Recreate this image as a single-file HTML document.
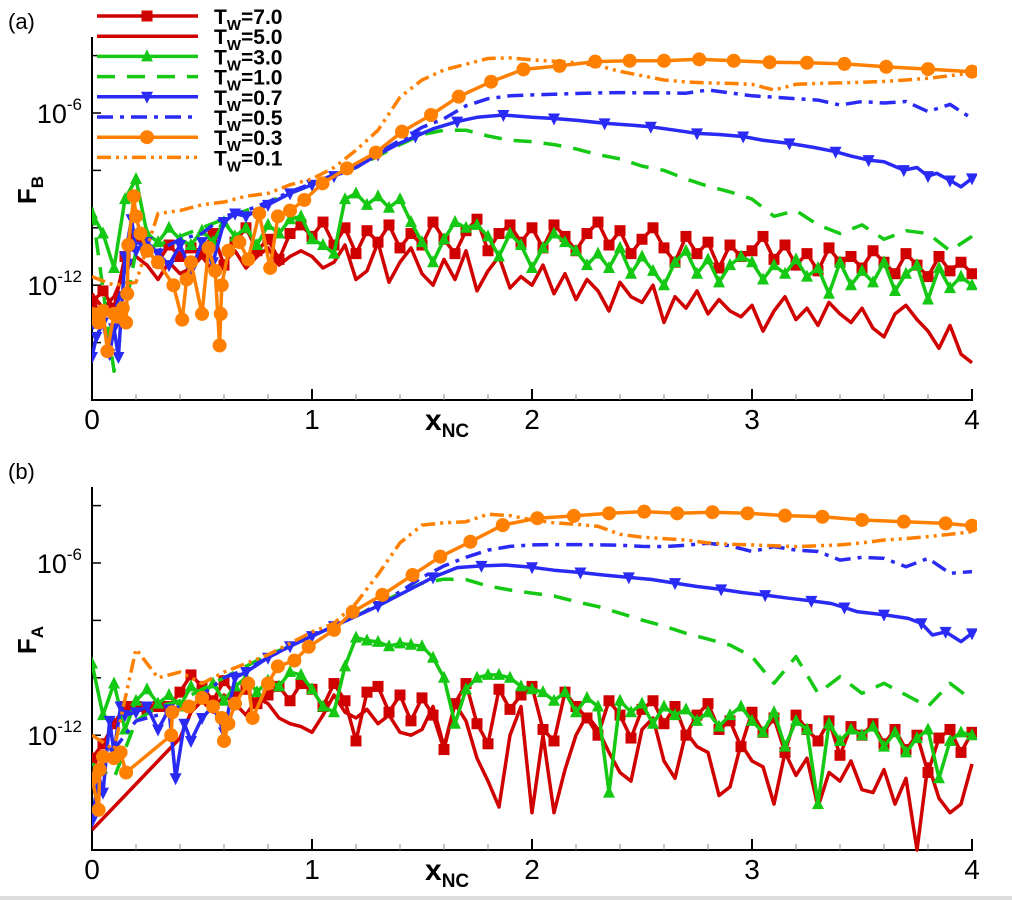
<!DOCTYPE html>
<html><head><meta charset="utf-8"><style>
html,body{margin:0;padding:0;background:#fff;}
svg{display:block;font-family:"Liberation Sans",Arial,sans-serif;}
</style></head><body>
<svg id="chart" width="1012" height="900" viewBox="0 0 1012 900" xmlns="http://www.w3.org/2000/svg">
<defs>
<clipPath id="clipA"><rect x="92" y="30" width="885" height="372"/></clipPath>
<clipPath id="clipB"><rect x="92" y="480" width="885" height="372"/></clipPath>
</defs>
<rect x="0" y="896" width="1012" height="4" fill="#dcdcdc"/>
<g id="root"></g>
</svg>
<script>
// ---- shared grids ----
const GRID05 = Array.from({length:81},(_,i)=>+(i*0.05).toFixed(2));
const GRID10 = Array.from({length:41},(_,i)=>+(i*0.1).toFixed(1));
const xTicks = [0,1,2,3,4];
const yTickExp = [-4,-6,-8,-10,-12,-14];
const yLabelExp = [-6,-12];
const legendLabels = ["7.0","5.0","3.0","1.0","0.7","0.5","0.3","0.1"];

// ---- panel (a) F_B : log10 values ----
const a_t7 = [-12.6,-12.2,-12.8,-11.0,-10.3,-10.8,-11.2,-10.6,-11.0,-10.7,
-10.9,-10.2,-11.3,-10.5,-10.0,-10.8,-10.4,-11.1,-10.2,-9.9,
-10.3,-9.8,-10.6,-10.0,-10.9,-10.1,-10.5,-9.9,-10.7,-10.2,
-10.6,-9.8,-10.4,-10.9,-10.1,-9.7,-10.8,-10.2,-9.9,-10.5,
-10.0,-10.7,-9.9,-10.3,-10.8,-10.2,-9.8,-10.6,-10.1,-10.9,
-10.4,-10.0,-10.7,-11.2,-10.3,-10.9,-10.5,-11.4,-10.6,-11.0,
-10.8,-10.3,-11.1,-10.6,-11.3,-10.9,-11.5,-10.7,-11.2,-11.0,
-11.4,-10.8,-11.2,-11.6,-10.9,-11.3,-11.7,-11.0,-11.5,-11.2,-11.6];
const a_t5 = [-12.3,-12.8,-12.4,-11.5,-11.0,-11.3,-11.8,-11.2,-11.6,-11.4,
-11.0,-11.5,-11.2,-10.8,-11.4,-11.0,-10.7,-11.3,-11.0,-10.8,
-11.0,-11.4,-11.2,-10.6,-11.8,-11.5,-10.5,-11.9,-11.2,-10.7,
-11.6,-12.0,-11.1,-11.8,-10.8,-12.2,-11.5,-11.0,-12.1,-11.7,
-12.0,-11.3,-12.3,-11.6,-12.5,-11.8,-12.2,-12.9,-11.9,-12.4,
-12.6,-12.0,-13.3,-12.4,-12.8,-12.2,-13.0,-12.5,-12.9,-13.1,
-12.7,-13.6,-12.9,-12.4,-13.2,-12.8,-13.4,-12.6,-13.0,-13.3,
-12.8,-13.5,-13.8,-13.0,-12.7,-13.2,-13.6,-14.2,-13.4,-14.4,-14.7];
const a_t3 = [-9.5,-10.2,-11.4,-9.0,-8.3,-10.2,-10.5,-10.0,-10.4,-10.6,
-10.1,-10.5,-9.8,-10.3,-10.0,-10.6,-9.9,-10.2,-9.7,-9.6,
-10.4,-10.6,-10.9,-9.0,-8.8,-9.2,-8.9,-9.3,-9.0,-9.8,
-10.5,-11.2,-10.4,-9.8,-10.0,-9.9,-10.3,-11.0,-10.2,-10.6,
-11.4,-10.7,-10.2,-10.5,-10.8,-11.3,-10.9,-11.4,-10.7,-11.6,
-11.0,-11.5,-12.0,-11.2,-10.8,-11.6,-11.1,-11.9,-11.3,-11.0,
-11.2,-11.8,-11.3,-11.6,-11.1,-11.7,-11.4,-12.3,-11.2,-12.0,
-11.5,-11.9,-11.2,-12.2,-11.6,-11.3,-12.5,-11.4,-12.1,-11.7,-12.0];
const a_t1 = [-9.3,-15.0,-10.8,-10.6,-10.3,-10.0,-9.7,-9.4,-9.1,-8.8,-8.5,
-8.2,-7.9,-7.5,-7.1,-6.75,-6.6,-6.6,-6.8,-6.95,-7.0,
-7.1,-7.25,-7.45,-7.6,-7.85,-8.0,-8.3,-8.55,-8.75,-9.0,
-9.6,-9.4,-9.9,-10.2,-9.9,-10.4,-10.1,-10.2,-10.8,-10.3];
const a_t07_x = [0,0.02,0.05,0.08,0.1,0.12,0.15,0.18,0.2,0.25,0.3,0.35,0.4,0.45,0.5,0.55,0.6,0.65,0.7,0.8,0.9,1.0,1.1,1.2,1.3,1.4,1.47,1.55,1.66,1.75,1.87,2.0,2.1,2.2,2.33,2.45,2.54,2.65,2.75,2.85,2.96,3.05,3.17,3.28,3.38,3.45,3.53,3.6,3.69,3.75,3.8,3.84,3.9,3.95,4.0];
const a_t07 = [-14.5,-13.8,-13.3,-14.4,-13.5,-14.5,-11.0,-9.7,-10.8,-10.5,
-10.9,-11.3,-10.6,-11.5,-10.5,-11.2,-9.8,-9.5,-9.6,-9.2,
-8.8,-8.5,-8.2,-7.9,-7.45,-7.05,-6.82,-6.55,-6.3,-6.15,
-6.07,-6.15,-6.19,-6.25,-6.36,-6.42,-6.48,-6.6,-6.71,-6.75,
-6.82,-6.95,-7.06,-7.2,-7.35,-7.5,-7.64,-7.7,-7.99,-7.9,
-8.2,-8.1,-8.35,-8.57,-8.28];
const a_t05 = [-13.5,-13.0,-10.5,-10.8,-10.4,-10.2,-9.6,-9.4,-9.1,-8.75,-8.45,
-8.15,-7.8,-7.4,-6.95,-6.5,-6.2,-5.75,-5.5,-5.4,-5.37,
-5.35,-5.32,-5.3,-5.29,-5.3,-5.3,-5.31,-5.2,-5.3,-5.4,
-5.45,-5.5,-5.55,-5.72,-5.6,-5.65,-5.6,-5.95,-5.7,-6.19];
const a_t03_x = [0,0.03,0.05,0.07,0.1,0.12,0.14,0.155,0.16,0.165,0.19,0.2,0.22,0.25,0.3,0.37,0.41,0.43,0.45,0.5,0.53,0.56,0.58,0.585,0.59,0.62,0.67,0.71,0.76,0.81,0.845,0.9,0.965,1.048,1.159,1.29,1.409,1.541,1.667,1.814,1.961,2.125,2.287,2.444,2.6,2.76,2.917,3.08,3.25,3.42,3.61,3.80,4.0];
const a_t03 = [-13.0,-13.3,-12.9,-14.3,-13.0,-13.1,-12.8,-13.3,-12.3,-10.6,
-8.9,-9.6,-10.2,-10.8,-11.2,-12.0,-13.2,-11.8,-11.2,-13.0,
-10.7,-11.5,-14.1,-13.0,-12.0,-10.8,-10.5,-11.1,-9.5,-11.4,
-9.6,-9.4,-9.03,-8.45,-7.93,-7.38,-6.65,-6.07,-5.43,-4.91,
-4.48,-4.36,-4.21,-4.18,-4.18,-4.13,-4.18,-4.23,-4.25,-4.29,
-4.39,-4.47,-4.56];
const a_t01 = [-11.7,-12.0,-11.9,-9.5,-9.4,-9.2,-9.1,-8.9,-8.8,-8.5,-8.3,
-7.9,-7.3,-6.6,-5.45,-4.85,-4.5,-4.3,-4.1,-4.08,-4.15,
-4.2,-4.25,-4.35,-4.55,-4.7,-4.85,-4.92,-4.95,-4.97,-5.0,
-5.2,-5.0,-4.97,-4.95,-4.93,-4.9,-4.85,-4.79,-4.7,-4.6];

// ---- panel (b) F_A : log10 values ----
const b_t7 = [-12.8,-12.3,-11.6,-11.0,-11.0,-11.1,-11.0,-11.0,-10.5,-9.9,
-10.3,-10.8,-10.1,-10.6,-10.4,-10.9,-10.6,-10.3,-10.8,-10.2,
-10.4,-11.0,-10.2,-10.8,-12.2,-10.5,-10.3,-11.2,-10.6,-11.5,
-10.7,-11.3,-12.5,-10.9,-10.2,-11.6,-12.3,-10.4,-11.1,-10.6,
-10.3,-11.8,-12.2,-10.5,-11.0,-11.4,-12.0,-10.8,-11.3,-12.1,
-11.1,-10.8,-11.6,-11.0,-12.0,-11.3,-10.9,-11.8,-11.5,-12.4,
-11.2,-11.9,-11.4,-12.6,-11.3,-11.8,-12.2,-11.5,-12.7,-11.7,
-12.0,-11.6,-12.3,-11.8,-12.5,-12.0,-13.3,-12.1,-11.8,-12.6,-11.9];
const b_t5 = [-15.3,-14.9,-14.5,-14.1,-13.7,-13.3,-12.9,-12.5,-12.1,-11.2,
-10.8,-11.2,-10.6,-10.9,-11.3,-10.7,-10.9,-11.4,-11.6,-11.7,
-11.9,-11.3,-10.6,-11.2,-11.4,-11.1,-11.6,-11.3,-11.9,-12.0,
-11.8,-11.0,-12.4,-10.9,-11.5,-12.8,-13.6,-14.5,-12.0,-11.0,
-14.7,-12.0,-14.7,-13.2,-12.0,-11.3,-11.8,-12.6,-13.3,-13.6,
-11.8,-11.4,-12.9,-13.5,-11.9,-12.4,-12.6,-14.1,-13.8,-12.3,
-12.9,-13.1,-14.4,-12.6,-13.4,-12.8,-14.5,-13.3,-13.6,-12.9,
-13.9,-14.0,-13.2,-14.4,-13.5,-16.0,-13.0,-14.2,-14.7,-14.4,-13.0];
const b_t3 = [-9.5,-11.3,-10.2,-11.8,-10.8,-10.4,-10.9,-10.6,-11.0,-10.3,
-10.6,-10.2,-10.8,-10.3,-10.0,-10.5,-10.1,-10.3,-9.8,-9.9,
-10.4,-11.0,-11.2,-9.6,-8.6,-8.7,-8.75,-8.9,-8.8,-8.85,
-8.9,-9.3,-10.0,-11.6,-10.4,-10.0,-9.9,-9.9,-10.0,-10.3,
-10.4,-10.5,-10.8,-10.5,-11.2,-10.7,-11.0,-14.0,-10.8,-11.2,
-10.9,-11.6,-11.0,-11.3,-11.1,-11.5,-11.2,-11.7,-11.3,-11.0,
-11.5,-11.9,-11.2,-12.4,-11.5,-11.8,-14.4,-11.6,-12.2,-11.8,
-12.0,-11.7,-12.4,-11.9,-12.6,-12.1,-11.8,-13.5,-12.2,-11.9,-12.0];
const b_t1 = [-13.0,-13.5,-11.5,-11.0,-10.8,-10.4,-10.0,-9.6,-9.2,-8.9,-8.55,
-8.2,-7.85,-7.45,-7.05,-6.7,-6.56,-6.58,-6.8,-6.94,-7.05,
-7.15,-7.35,-7.52,-7.75,-7.99,-8.2,-8.45,-8.65,-8.86,-9.26,
-10.19,-9.26,-10.54,-9.96,-10.54,-10.19,-10.6,-11.0,-10.19,-10.77];
const b_t07_x = [0,0.03,0.05,0.08,0.1,0.13,0.15,0.2,0.25,0.3,0.35,0.38,0.42,0.45,0.5,0.55,0.6,0.65,0.7,0.8,0.9,1.0,1.1,1.2,1.3,1.45,1.55,1.66,1.77,1.88,2.0,2.1,2.22,2.33,2.44,2.54,2.65,2.75,2.86,2.96,3.06,3.17,3.27,3.36,3.42,3.48,3.6,3.71,3.77,3.82,3.88,3.95,4.0];
const b_t07 = [-15.0,-13.4,-14.0,-11.5,-12.6,-11.0,-11.3,-11.2,-11.0,-11.8,
-11.1,-13.5,-11.6,-12.2,-11.4,-11.0,-11.9,-10.0,-9.8,-9.3,
-8.9,-8.55,-8.2,-7.85,-7.5,-6.9,-6.5,-6.16,-6.1,-6.07,
-6.15,-6.25,-6.33,-6.42,-6.5,-6.57,-6.7,-6.82,-6.92,-7.03,
-7.12,-7.23,-7.32,-7.41,-7.55,-7.7,-7.8,-7.93,-8.1,-8.51,
-8.4,-8.74,-8.45];
const b_t05 = [-13.5,-12.5,-11.5,-11.3,-11.0,-10.6,-10.0,-9.7,-9.3,-8.9,-8.55,
-8.2,-7.85,-7.45,-7.0,-6.5,-6.1,-5.8,-5.55,-5.42,-5.37,
-5.36,-5.36,-5.37,-5.38,-5.42,-5.43,-5.38,-5.31,-5.4,-5.6,
-5.43,-5.55,-5.6,-5.9,-5.8,-5.84,-6.13,-5.84,-6.36,-6.3];
const b_t03_x = [0,0.03,0.035,0.05,0.1,0.13,0.155,0.36,0.365,0.44,0.5,0.55,0.59,0.6,0.62,0.65,0.71,0.73,0.8,0.845,0.92,0.985,1.10,1.185,1.32,1.457,1.583,1.72,1.867,2.024,2.19,2.35,2.51,2.66,2.82,2.98,3.15,3.32,3.50,3.69,3.88,4.0];
const b_t03 = [-13.5,-14.6,-13.2,-12.75,-12.8,-12.6,-13.3,-12.0,-11.2,-11.0,
-10.7,-11.0,-11.4,-12.2,-11.6,-10.9,-10.2,-11.4,-10.2,-9.6,
-9.4,-8.92,-8.33,-7.7,-7.11,-6.42,-5.78,-5.26,-4.68,-4.44,
-4.36,-4.27,-4.21,-4.27,-4.23,-4.27,-4.35,-4.39,-4.5,-4.56,
-4.62,-4.7];
const b_t01 = [-12.0,-12.5,-9.0,-10.0,-9.8,-10.2,-9.8,-9.5,-9.2,-8.8,-8.4,
-8.1,-7.4,-6.4,-5.3,-4.68,-4.6,-4.56,-4.3,-4.35,-4.5,
-4.6,-4.65,-4.72,-5.0,-5.1,-5.15,-5.2,-5.3,-5.35,-5.37,
-5.4,-5.43,-5.4,-5.37,-5.3,-5.2,-5.15,-5.08,-5.0,-4.91];

const RED="#d00000", GREEN="#14c814", BLUE="#2a2af5", ORANGE="#ff8000";
const NS="http://www.w3.org/2000/svg";
const root=document.getElementById('root');
function mk(tag,attrs,parent){const e=document.createElementNS(NS,tag);for(const k in attrs)e.setAttribute(k,attrs[k]);(parent||root).appendChild(e);return e;}

const X0=92, X1=972, PX=(X1-X0)/4, DEC=28.7;
function sx(x){return X0+x*PX;}
function sy(l,oy){return oy+400-(l+16)*DEC;}

function styleOf(key){
  return {
    t7:{c:RED,dash:null,m:'square'},
    t5:{c:RED,dash:null,m:null},
    t3:{c:GREEN,dash:null,m:'up'},
    t1:{c:GREEN,dash:'18 12',m:null},
    t07:{c:BLUE,dash:null,m:'down'},
    t05:{c:BLUE,dash:'16 7 4 7',m:null},
    t03:{c:ORANGE,dash:null,m:'circle'},
    t01:{c:ORANGE,dash:'14 5 3 5 3 5',m:null}
  }[key];
}
function marker(type,x,y,c,g){
  let e;
  if(type==='square'){e=mk('rect',{x:x-5.5,y:y-5.5,width:11,height:11,fill:c},g);}
  else if(type==='circle'){e=mk('circle',{cx:x,cy:y,r:7,fill:c},g);}
  else if(type==='up'){e=mk('polygon',{points:`${x},${y-7} ${x-6},${y+5} ${x+6},${y+5}`,fill:c},g);}
  else {e=mk('polygon',{points:`${x},${y+7} ${x-6},${y-5} ${x+6},${y-5}`,fill:c},g);}
  
  
}
function series(xs,vals,key,oy,clip,name){
  const st=styleOf(key);
  const g=mk('g',{'clip-path':`url(#${clip})`});
  
  
  const d=xs.map((x,i)=>(i?'L':'M')+sx(x).toFixed(1)+' '+sy(vals[i],oy).toFixed(1)).join(' ');
  const p=mk('path',{d:d,fill:'none',stroke:st.c,'stroke-width':3.5,'stroke-linejoin':'round'},g);
  if(st.dash)p.setAttribute('stroke-dasharray',st.dash);
  
  
  if(st.m){
    xs.forEach((x,i)=>{
      if(st.m==='down' && x>1.0 && i%2) return;
      marker(st.m,sx(x),sy(vals[i],oy),st.c,g);
    });
  }
}

function axes(oy,panel,ylab){
  const g=mk('g',{});
  
  
  const top=oy+37, bot=oy+400;
  let e=mk('line',{x1:X0,y1:top,x2:X0,y2:bot+1,stroke:'#000','stroke-width':2},g);
   
  e=mk('line',{x1:X0-1,y1:bot,x2:X1+1,y2:bot,stroke:'#000','stroke-width':2},g);
   
  for(let k=0;k<=20;k++){
    const x=sx(k*0.2), major=(k%5===0);
    e=mk('line',{x1:x,y1:bot,x2:x,y2:bot-(major?11:6),stroke:major?'#000':'#888','stroke-width':major?2:1},g);
     
  }
  xTicks.forEach(v=>{
    e=mk('text',{x:sx(v),y:bot+29,'font-size':28,'text-anchor':'middle',fill:'#000'},g);
    e.textContent=String(v);
     
  });
  yTickExp.forEach(v=>{
    const y=sy(v,oy);
    e=mk('line',{x1:X0,y1:y,x2:X0+9,y2:y,stroke:'#000','stroke-width':1.5},g);
     
  });
  yLabelExp.forEach(v=>{
    const y=sy(v,oy);
    const t=mk('text',{x:82,y:y+10,'font-size':27,'text-anchor':'end',fill:'#000'},g);
    const a=mk('tspan',{},t); a.textContent='10';
    const b=mk('tspan',{'font-size':17,dy:-13},t); b.textContent=String(v);
     
  });
  const yt=mk('text',{x:0,y:0,'font-size':26,'font-weight':'bold',transform:`translate(36,${oy+190}) rotate(-90)`,'text-anchor':'middle',fill:'#000'},g);
  const y1=mk('tspan',{},yt); y1.textContent='F';
  const y2=mk('tspan',{'font-size':17,dy:7},yt); y2.textContent=ylab;
   
  const xt=mk('text',{x:425,y:oy+430,'font-size':30,'font-weight':'bold',fill:'#000'},g);
  const x1=mk('tspan',{},xt); x1.textContent='x';
  const x2=mk('tspan',{'font-size':19,dy:7},xt); x2.textContent='NC';
   
  const pl=mk('text',{x:8,y:oy+29,'font-size':22,fill:'#000'},g);
  pl.textContent='('+panel+')';
   
}

function panel(oy,clip,d,name){
  series(GRID05,d.t5,'t5',oy,clip,name+'-tw5');
  series(GRID05,d.t7,'t7',oy,clip,name+'-tw7');
  series(GRID05,d.t3,'t3',oy,clip,name+'-tw3');
  series(GRID10,d.t1,'t1',oy,clip,name+'-tw1');
  series(d.t07x,d.t07,'t07',oy,clip,name+'-tw07');
  series(GRID10,d.t05,'t05',oy,clip,name+'-tw05');
  series(GRID10,d.t01,'t01',oy,clip,name+'-tw01');
  series(d.t03x,d.t03,'t03',oy,clip,name+'-tw03');
}
axes(0,'a','B');
axes(450,'b','A');
panel(0,'clipA',{t7:a_t7,t5:a_t5,t3:a_t3,t1:a_t1,t07x:a_t07_x,t07:a_t07,t05:a_t05,t03x:a_t03_x,t03:a_t03,t01:a_t01},'panel-a');
panel(450,'clipB',{t7:b_t7,t5:b_t5,t3:b_t3,t1:b_t1,t07x:b_t07_x,t07:b_t07,t05:b_t05,t03x:b_t03_x,t03:b_t03,t01:b_t01},'panel-b');

const lg=mk('g',{});


const keys=['t7','t5','t3','t1','t07','t05','t03','t01'];
keys.forEach((k,i)=>{
  const st=styleOf(k), y=16+i*20.2;
  const eg=mk('g',{},lg);
  
  
  const l=mk('line',{x1:97,y1:y,x2:198,y2:y,stroke:st.c,'stroke-width':3.5},eg);
  if(st.dash)l.setAttribute('stroke-dasharray',st.dash);
  if(st.m)marker(st.m,147,y,st.c,eg);
  const t=mk('text',{x:214,y:y+8,'font-size':21,'font-weight':'bold',fill:'#000'},eg);
  const a=mk('tspan',{},t); a.textContent='T';
  const b=mk('tspan',{'font-size':15,dy:6},t); b.textContent='W';
  const c=mk('tspan',{dy:-6},t); c.textContent='='+legendLabels[i];
});
</script>
</body></html>
